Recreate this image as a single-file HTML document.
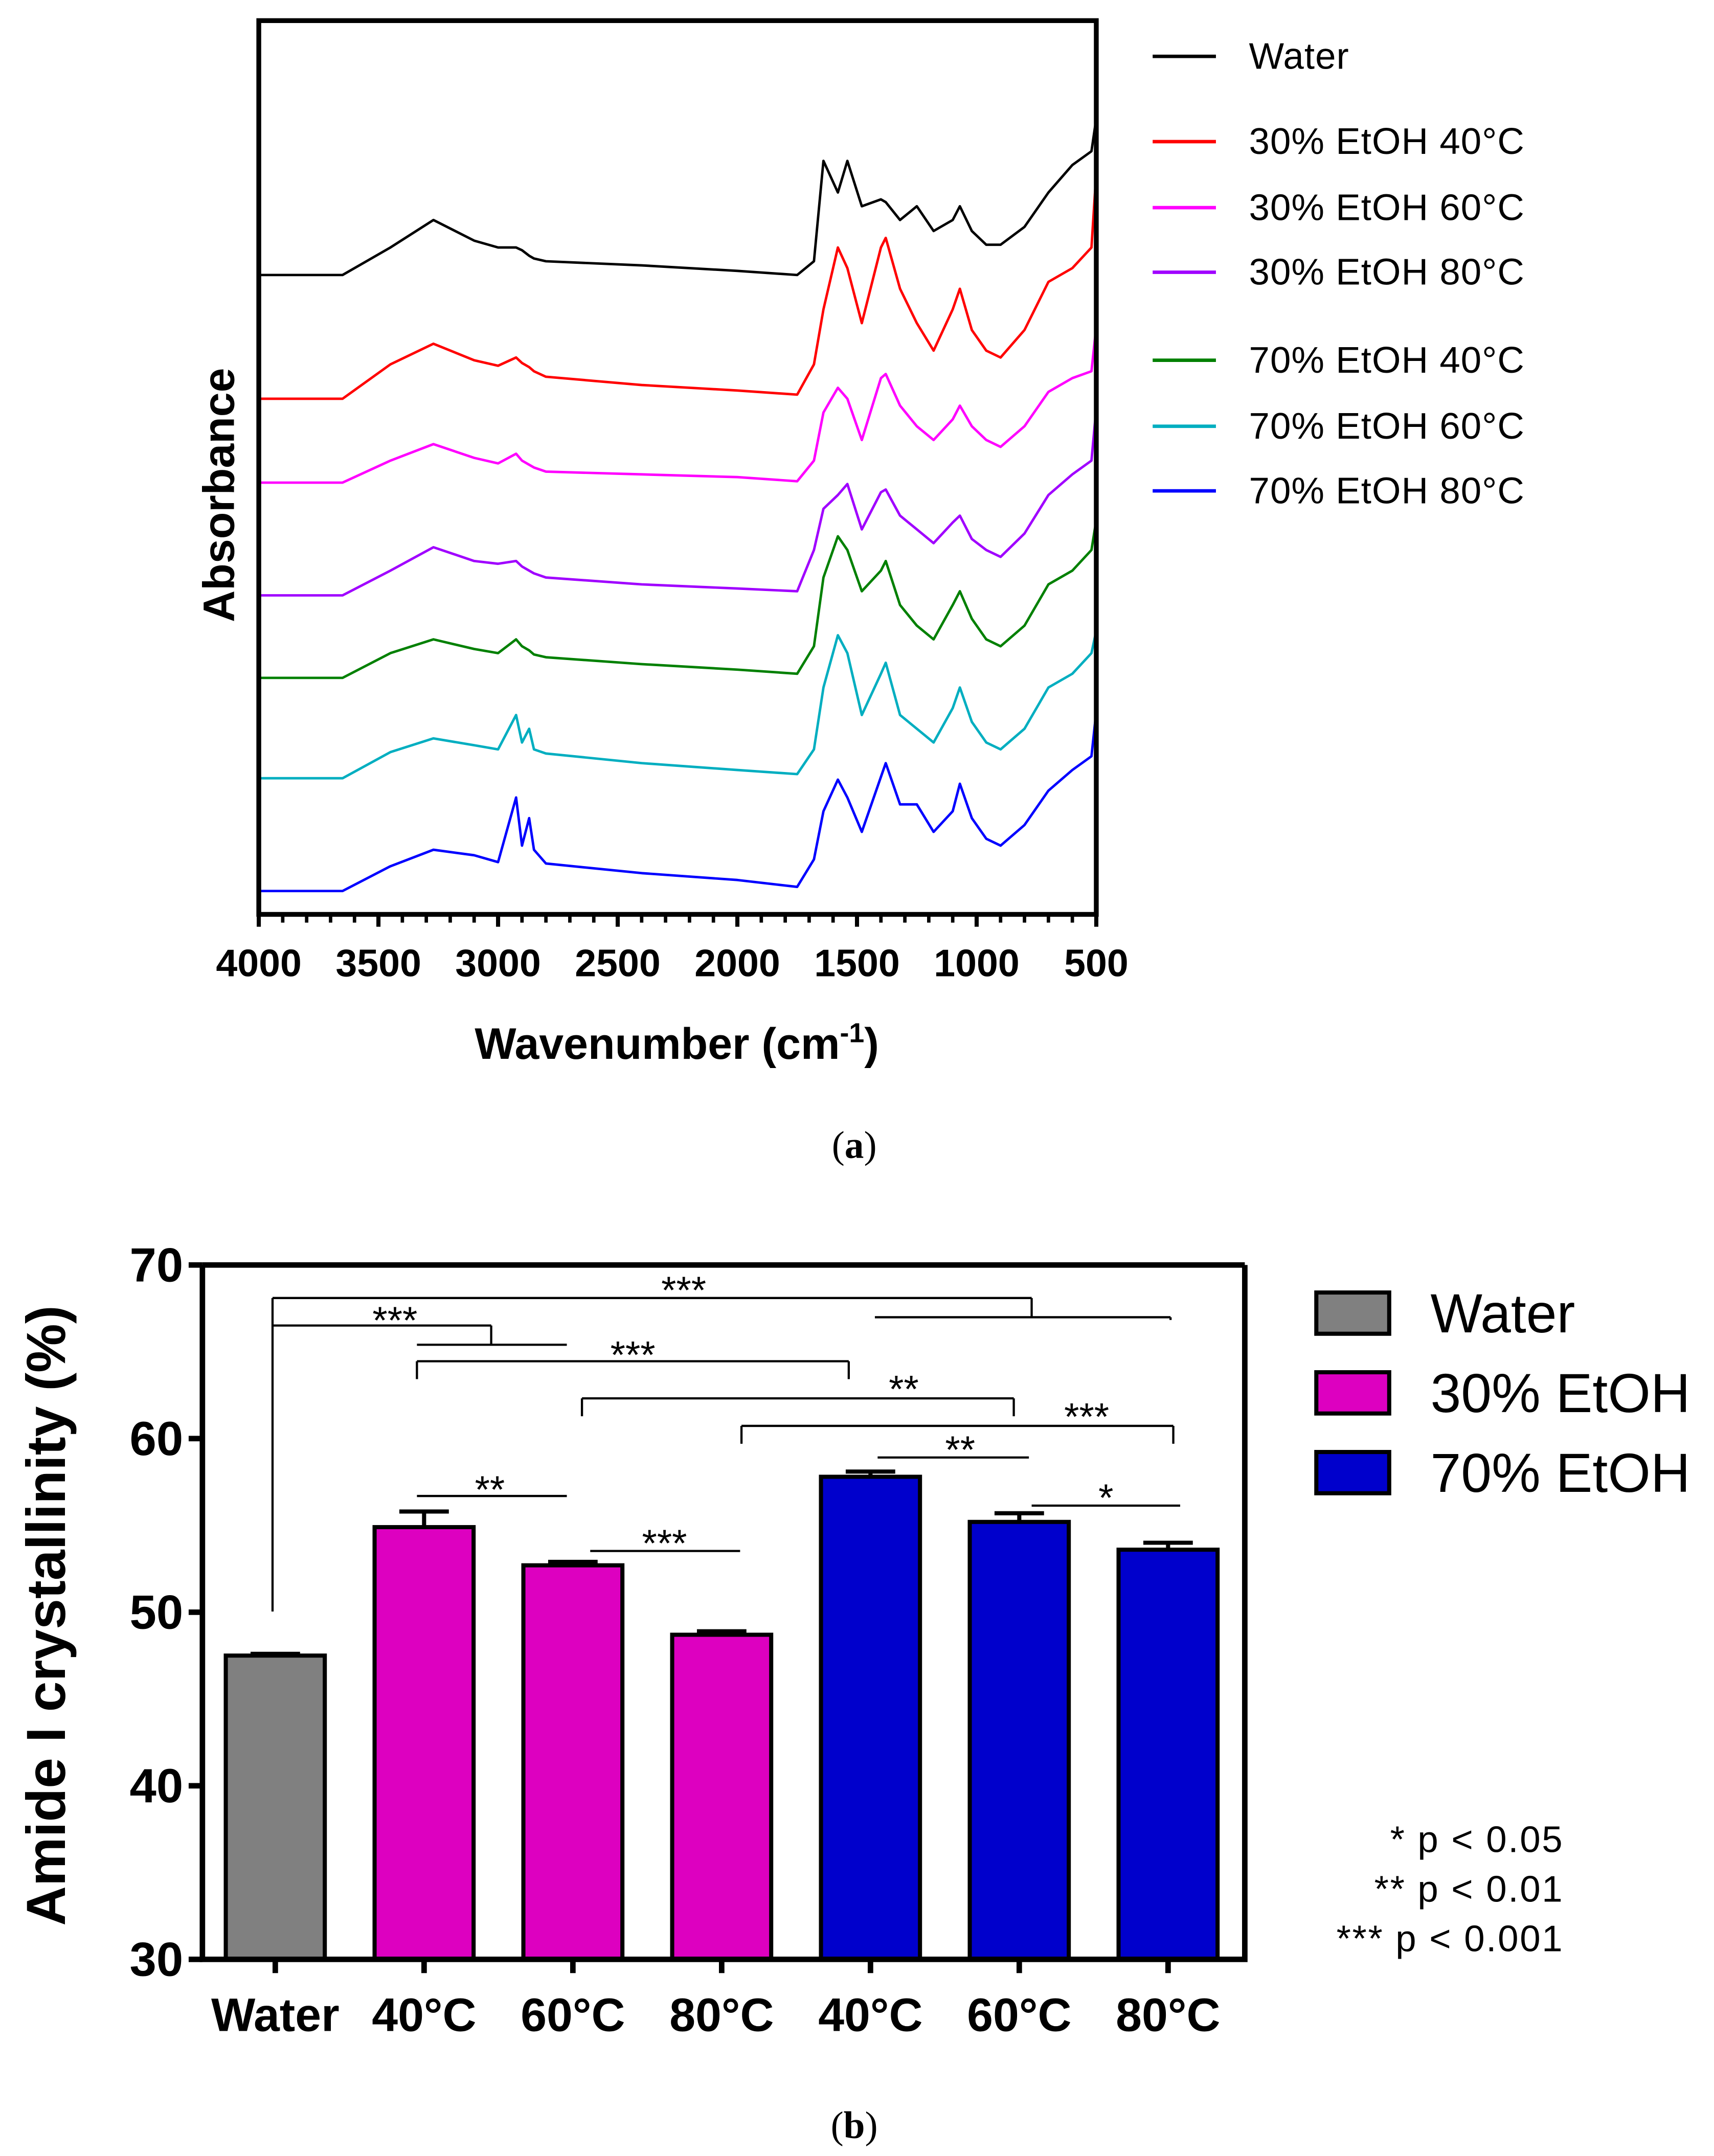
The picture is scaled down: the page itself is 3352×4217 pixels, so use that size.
<!DOCTYPE html>
<html><head><meta charset="utf-8"><style>
html,body{margin:0;padding:0;background:#fff;}
svg{display:block;}
text{font-family:"Liberation Sans",Arial,sans-serif;}
</style></head><body>
<svg id="fig" width="3352" height="4217" viewBox="0 0 1246 1568" xmlns="http://www.w3.org/2000/svg">
<rect x="0" y="0" width="1246" height="1568" fill="#fff"/>
<g id="pa"></g>
<g id="pb"></g>
<text x="621" y="842" text-anchor="middle" font-size="28" style="font-family:'Liberation Serif',serif">(<tspan font-weight="bold">a</tspan>)</text>
<text x="621" y="1555" text-anchor="middle" font-size="28" style="font-family:'Liberation Serif',serif">(<tspan font-weight="bold">b</tspan>)</text>
</svg>
<script>
// ---------- Panel A data ----------
const wavenumbers=[4000,3650,3450,3270,3100,3000,2925,2900,2870,2850,2800,2400,2000,1750,1680,1640,1580,1540,1480,1400,1380,1320,1250,1180,1100,1070,1020,960,900,800,700,600,520,502];
const seriesNames=["Water","30% EtOH 40°C","30% EtOH 60°C","30% EtOH 80°C","70% EtOH 40°C","70% EtOH 60°C","70% EtOH 80°C"];
const water=[465,465,485,505,490,485,485,483,479,477,475,472,468,465,475,548,525,548,515,520,518,505,515,497,505,515,497,487,487,500,525,545,555,577];
const e30t40=[375,375,400,415,403,399,405,401,398,395,391,385,381,378,400,440,485,470,430,485,492,455,430,410,440,455,425,410,405,425,460,470,485,535];
const e30t60=[314,314,330,342,332,328,335,330,327,325,322,320,318,315,330,365,383,375,345,390,393,370,355,345,360,370,355,345,340,355,380,390,395,425];
const e30t80=[232,232,250,267,257,255,257,253,250,248,245,240,237,235,265,295,305,313,280,307,309,290,280,270,285,290,273,265,260,277,305,320,330,365];
const e70t40=[172,172,190,200,193,190,200,195,192,189,187,182,178,175,195,245,275,265,235,250,257,225,210,200,225,235,215,200,195,210,240,250,265,285];
const e70t60=[99,99,118,128,123,120,145,125,135,120,117,110,105,102,120,165,203,190,145,175,183,145,135,125,150,165,140,125,120,135,165,175,190,205];
const e70t80=[17,17,35,47,43,38,85,50,70,47,37,30,25,20,40,75,98,85,60,100,110,80,80,60,75,95,70,55,50,65,90,105,115,145];
const seriesValues=[water,e30t40,e30t60,e30t80,e70t40,e70t60,e70t80];
const xTicksA=[4000,3500,3000,2500,2000,1500,1000,500];
const colorsA=["#000","#ff0000","#ff00ff","#a000ff","#008000","#00aec0","#0000ff"];

// ---------- Panel B data ----------
const barCategories=["Water","40°C","60°C","80°C","40°C","60°C","80°C"];
const barValues=[47.5,54.9,52.7,48.7,57.8,55.2,53.6];
const barErrors=[0.1,0.9,0.2,0.2,0.3,0.5,0.4];
const barGroups=[0,1,1,1,2,2,2];
const yTicksB=[30,40,50,60,70];
const groupNames=["Water","30% EtOH","70% EtOH"];
const groupColors=["#808080","#dd00c0","#0000cc"];

const NS="http://www.w3.org/2000/svg";
function mk(parent,tag,attrs,txt){const e=document.createElementNS(NS,tag);for(const k in attrs)e.setAttribute(k,attrs[k]);if(txt!==undefined)e.textContent=txt;parent.appendChild(e);return e;}

// Panel A
const pa=document.getElementById('pa');
const ax0=188,ax1=797,ay0=15,ay1=665;
const xA=w=>ax0+(4000-w)/(4000-500)*(ax1-ax0);
const yA=v=>ay1-v;
seriesValues.forEach((s,i)=>{
  let d=s.map((v,j)=>(j?'L':'M')+xA(wavenumbers[j]).toFixed(1)+' '+yA(v).toFixed(1)).join(' ');
  const p=mk(pa,'path',{d:d,fill:'none',stroke:colorsA[i],'stroke-width':1.8,'stroke-linejoin':'round'});
  
  
});
const fa=mk(pa,'rect',{x:ax0,y:ay0,width:ax1-ax0,height:ay1-ay0,fill:'none',stroke:'#000','stroke-width':3.5});


for(let w=4000;w>=500;w-=100){const maj=w%500===0;mk(pa,'line',{x1:xA(w),x2:xA(w),y1:ay1,y2:ay1+(maj?9:6),stroke:'#000','stroke-width':maj?3:2.5});}
xTicksA.forEach(t=>{const e=mk(pa,'text',{x:xA(t),y:710,'text-anchor':'middle','font-size':28,'font-weight':'bold'},String(t));
  
  });
const xt=mk(pa,'text',{x:492,y:770,'text-anchor':'middle','font-size':32,'font-weight':'bold'});


xt.innerHTML='Wavenumber (cm<tspan dy="-12" font-size="20">-1</tspan><tspan dy="12">)</tspan>';
const yt=mk(pa,'text',{x:0,y:0,transform:'translate(170,360) rotate(-90)','text-anchor':'middle','font-size':32,'font-weight':'bold'},'Absorbance');


const legY=[41,103,151,198,262,310,357];
seriesNames.forEach((n,i)=>{
  const g=mk(pa,'g',{});
  
  
  mk(g,'line',{x1:838,x2:884,y1:legY[i],y2:legY[i],stroke:colorsA[i],'stroke-width':2.5});
  mk(g,'text',{x:908,y:legY[i]+9,'font-size':27,'letter-spacing':'0.4'},n);
});

// Panel B
const pb=document.getElementById('pb');
const bx0=147,bx1=905,by0=920,by1=1425;
const yB=v=>by1-(v-30)/(70-30)*(by1-by0);
const xB=i=>200+i*108.2;
const bw=72;
barValues.forEach((v,i)=>{
  const x=xB(i);
  const r=mk(pb,'rect',{x:x-bw/2,y:yB(v),width:bw,height:by1-yB(v),fill:groupColors[barGroups[i]],stroke:'#000','stroke-width':3});
  
  
  const ye=yB(v+barErrors[i]);
  mk(pb,'line',{x1:x,x2:x,y1:yB(v),y2:ye,stroke:'#000','stroke-width':3});
  mk(pb,'line',{x1:x-18,x2:x+18,y1:ye,y2:ye,stroke:'#000','stroke-width':3});
  const t=mk(pb,'text',{x:x,y:1477,'text-anchor':'middle','font-size':34,'font-weight':'bold'},barCategories[i]);
  
  
});
mk(pb,'polyline',{points:`${bx0},${by0} ${bx0},${by1} ${bx1},${by1} ${bx1},${by0}`,fill:'none',stroke:'#000','stroke-width':4});
mk(pb,'line',{x1:bx0,x2:bx1,y1:by0,y2:by0,stroke:'#000','stroke-width':4});
yTicksB.forEach(t=>{
  mk(pb,'line',{x1:bx0-10,x2:bx0,y1:yB(t),y2:yB(t),stroke:'#000','stroke-width':4});
  const e=mk(pb,'text',{x:133,y:yB(t)+12,'text-anchor':'end','font-size':35,'font-weight':'bold'},String(t));
  
  
});
barValues.forEach((v,i)=>{mk(pb,'line',{x1:xB(i),x2:xB(i),y1:by1,y2:by1+10,stroke:'#000','stroke-width':4});});
const ybt=mk(pb,'text',{x:0,y:0,transform:'translate(47,1175) rotate(-90)','text-anchor':'middle','font-size':40,'font-weight':'bold'},'Amide  I crystallinity (%)');


// significance brackets
const sig=mk(pb,'g',{stroke:'#000','stroke-width':1.6,fill:'none'});


[[198,944,198,1172],[198,944,750,944],[750,944,750,958],[636,958,851,958],[851,958,851,960],
 [198,964,357,964],[357,964,357,978],[303,978,412,978],
 [303,990,617,990],[303,990,303,1003],[617,990,617,1003],
 [423,1017,737,1017],[423,1017,423,1030],[737,1017,737,1030],
 [539,1037,853,1037],[539,1037,539,1050],[853,1037,853,1050],
 [638,1060,748,1060],[303,1088,412,1088],[429,1128,538,1128],[750,1095,858,1095]
].forEach(l=>mk(sig,'line',{x1:l[0],y1:l[1],x2:l[2],y2:l[3]}));
[[497,948,'***'],[287,970,'***'],[460,995,'***'],[657,1020,'**'],[790,1040,'***'],[698,1064,'**'],[356,1093,'**'],[483,1132,'***'],[804,1099,'*']].forEach(s=>{
  const e=mk(pb,'text',{x:s[0],y:s[1],'text-anchor':'middle','font-size':28},s[2]);
  
  
});
// legend b
const lyB=[955,1013,1071];
groupNames.forEach((n,i)=>{
  const g=mk(pb,'g',{});
  
  
  mk(g,'rect',{x:957,y:lyB[i]-15,width:53,height:30,fill:groupColors[i],stroke:'#000','stroke-width':3});
  mk(g,'text',{x:1040,y:lyB[i]+14,'font-size':40},n);
});
[["* p < 0.05",1347],["** p < 0.01",1383],["*** p < 0.001",1419]].forEach((p,i)=>{
  const e=mk(pb,'text',{x:1137,y:p[1],'text-anchor':'end','font-size':27,'letter-spacing':'1'},p[0]);
  
  
});
</script>
</body></html>
